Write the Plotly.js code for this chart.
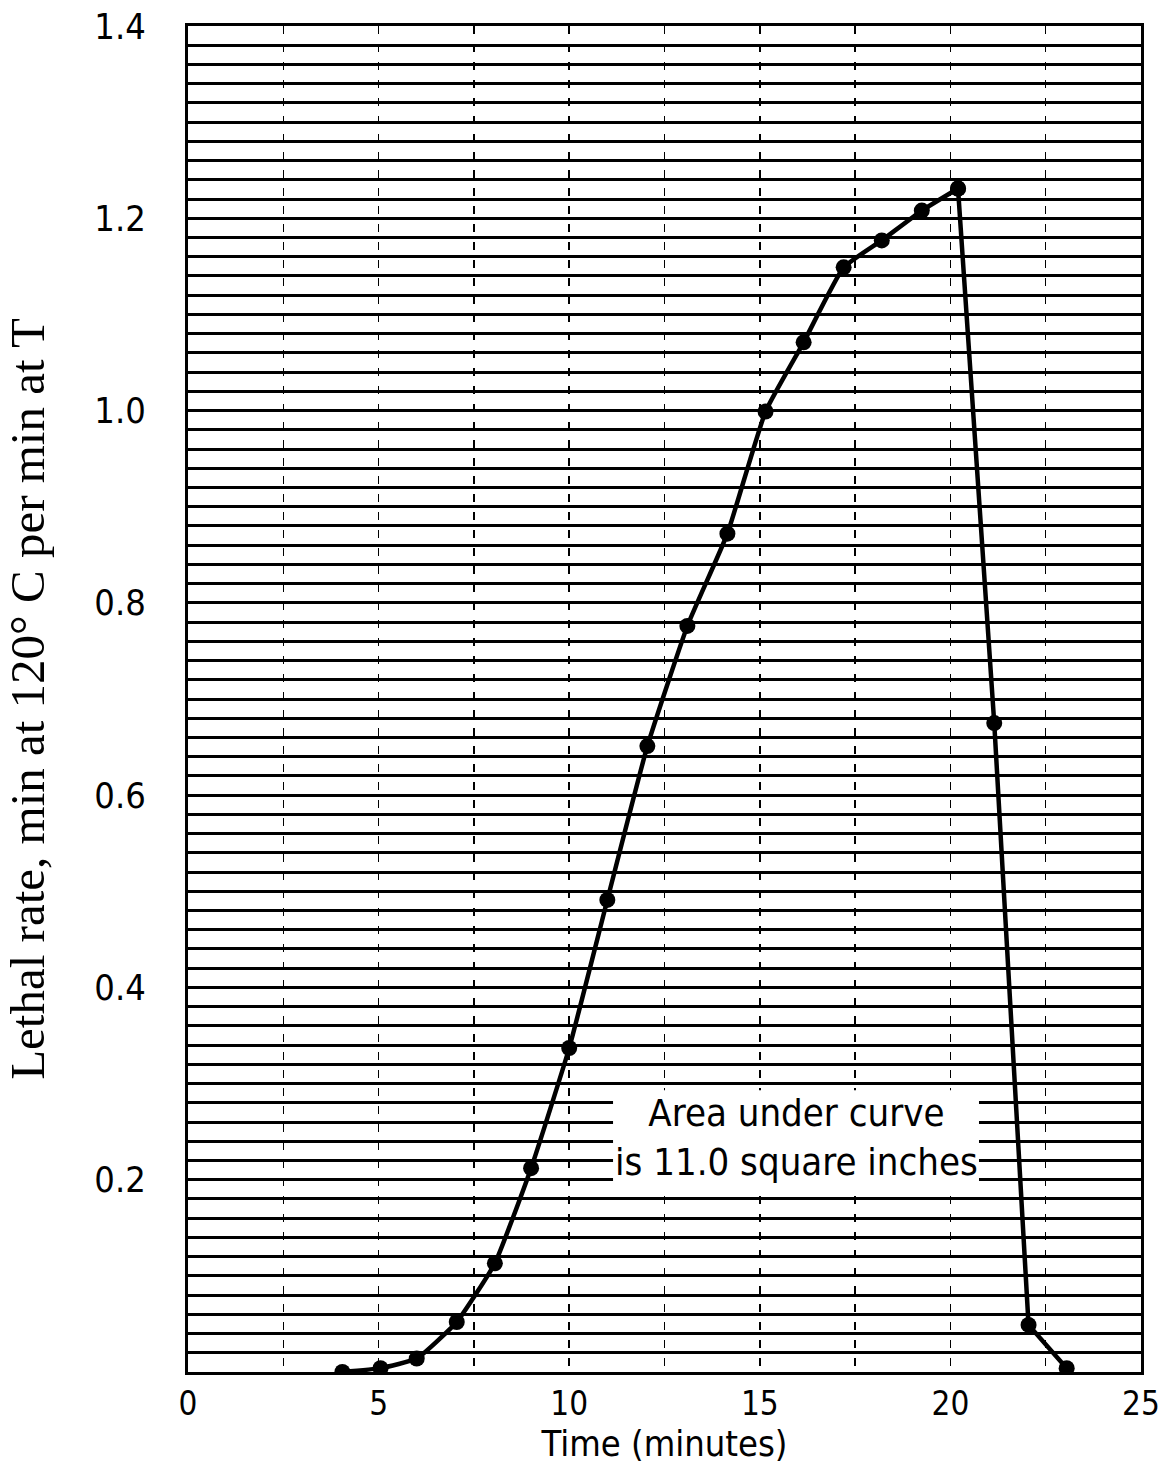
<!DOCTYPE html>
<html>
<head>
<meta charset="utf-8">
<script src="https://cdn.plot.ly/plotly-3.0.1.min.js"></script>
<style>
  html, body { margin: 0; padding: 0; background: #fff; }
  #chart { width: 1163px; height: 1467px; }
</style>
</head>
<body>
<div id="chart"></div>
<script>
// Time (minutes)
const timeMin = [4.05, 5.05, 6.0, 7.05, 8.05, 9.0, 10.0, 11.0, 12.05, 13.1,
                 14.15, 15.15, 16.15, 17.2, 18.2, 19.25, 20.2, 21.15, 22.05, 23.05];
// Lethal rate values
const lethalRate = [0.0, 0.004, 0.014, 0.052, 0.113, 0.212, 0.337, 0.491, 0.651, 0.776,
                    0.872, 0.999, 1.071, 1.149, 1.177, 1.208, 1.231, 0.675, 0.049, 0.004];
const peakIndex = 16; // curve is smooth up to the peak, then drops straight down

const xTickVals = [0, 5, 10, 15, 20, 25];
const xTickText = ["0", "5", "10", "15", "20", "25"];
const yTickVals = [0.2, 0.4, 0.6, 0.8, 1.0, 1.2, 1.4];
const yTickText = ["0.2", "0.4", "0.6", "0.8", "1.0", "1.2", "1.4"];

const annotationLines = ["Area under curve", "is 11.0 square inches"];

const rising = {
  x: timeMin.slice(0, peakIndex + 1),
  y: lethalRate.slice(0, peakIndex + 1),
  type: "scatter",
  mode: "lines+markers",
  line: { color: "#000", width: 4.5, shape: "spline", smoothing: 0.4 },
  marker: { color: "#000", size: 16 },
  showlegend: false
};
const falling = {
  x: timeMin.slice(peakIndex),
  y: lethalRate.slice(peakIndex),
  type: "scatter",
  mode: "lines+markers",
  line: { color: "#000", width: 4.5 },
  marker: { color: "#000", size: 16 },
  showlegend: false
};
// invisible helper trace so the overlaid grid axis is drawn
const gridHelper = {
  x: [timeMin[0]],
  y: [lethalRate[0]],
  xaxis: "x", yaxis: "y2",
  type: "scatter", mode: "markers",
  marker: { opacity: 0 },
  hoverinfo: "skip",
  showlegend: false
};

const layout = {
  width: 1163,
  height: 1467,
  margin: { l: 188, r: 22, t: 26, b: 95 },
  paper_bgcolor: "#fff",
  plot_bgcolor: "#fff",
  showlegend: false,
  xaxis: {
    range: [0, 25],
    tickmode: "array",
    tickvals: xTickVals,
    ticktext: xTickText,
    ticks: "",
    ticklabelstandoff: 0,
    ticklabeloverflow: "allow",
    tickfont: { family: "DejaVu Sans Condensed", size: 33, color: "#000" },
    showgrid: true,
    gridcolor: "#000",
    gridwidth: 1.5,
    griddash: "8px,10px",
    minor: { dtick: 2.5, tick0: 0, showgrid: true, gridcolor: "#000", gridwidth: 1.5, griddash: "8px,10px", ticks: "" },
    showline: true,
    linecolor: "#000",
    linewidth: 3,
    mirror: true,
    zeroline: false,
    title: {
      text: "Time (minutes)",
      font: { family: "DejaVu Sans Condensed", size: 36, color: "#000" },
      standoff: 8
    }
  },
  yaxis: {
    range: [0, 1.4],
    tickmode: "array",
    tickvals: yTickVals,
    ticktext: yTickText,
    ticks: "",
    ticklabelstandoff: 32,
    ticklabeloverflow: "allow",
    tickfont: { family: "DejaVu Sans Condensed", size: 36, color: "#000" },
    showgrid: false,
    showline: true,
    linecolor: "#000",
    linewidth: 3,
    mirror: true,
    zeroline: false,
    title: {
      text: "Lethal rate, min at 120° C per min at T",
      font: { family: "Liberation Serif", size: 49, color: "#000" },
      standoff: 50
    }
  },
  yaxis2: {
    overlaying: "y",
    range: [0, 1.4],
    tickmode: "linear",
    tick0: 0,
    dtick: 0.02,
    showticklabels: false,
    ticks: "",
    showgrid: true,
    gridcolor: "#000",
    gridwidth: 3,
    zeroline: false,
    showline: false,
    layer: "below traces"
  },
  shapes: [{
    type: "rect",
    xref: "x", yref: "y",
    x0: 11.15, x1: 20.75, y0: 0.183, y1: 0.293,
    fillcolor: "#fff",
    line: { width: 0 },
    layer: "between"
  }],
  annotations: [{
    xref: "x", yref: "y",
    x: 15.95, y: 0.244,
    xanchor: "center", yanchor: "middle",
    text: annotationLines.join("<br>"),
    showarrow: false,
    align: "center",
    font: { family: "DejaVu Sans Condensed", size: 38, color: "#000" }
  }]
};

Plotly.newPlot("chart", [gridHelper, rising, falling], layout, { displayModeBar: false, staticPlot: true });
</script>
</body>
</html>
